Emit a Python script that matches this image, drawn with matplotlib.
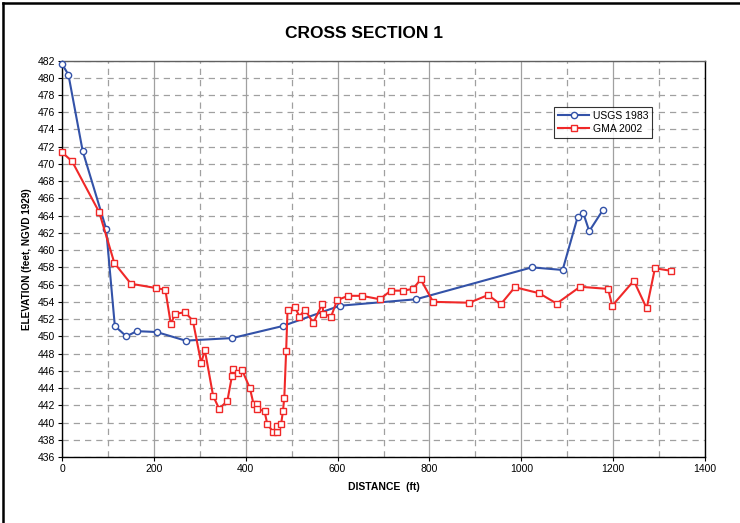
import matplotlib
matplotlib.use("Agg")
import matplotlib.pyplot as plt
from matplotlib.lines import Line2D
from matplotlib.ticker import MultipleLocator

plt.rcParams['font.family'] = ['Liberation Sans', 'DejaVu Sans']

# USGS 1983 survey
usgs_dist = [0, 14, 45, 96, 115, 140, 163, 206, 269, 371, 481, 605, 771,
             1023, 1090, 1123, 1135, 1148, 1177]
usgs_elev = [481.6, 480.35, 471.5, 462.5, 451.2, 450.0, 450.6, 450.5, 449.5,
             449.8, 451.2, 453.55, 454.3, 458.0, 457.7, 463.9, 464.3, 462.2, 464.6]

# GMA 2002 survey
gma_dist = [0, 22, 81, 114, 150, 205, 225, 237, 246, 268, 285, 303, 311,
            329, 342, 360, 370, 373, 384, 392, 409, 417, 425, 425, 441, 447,
            460, 469, 468, 477, 481, 484, 488, 491, 507, 517, 529, 547, 567,
            569, 586, 599, 623, 653, 692, 716, 743, 764, 781, 808, 887, 928,
            955, 986, 1039, 1077, 1128, 1189, 1198, 1245, 1273, 1291, 1326]
gma_elev = [471.35, 470.3, 464.4, 458.5, 456.1, 455.6, 455.4, 451.4, 452.6,
            452.8, 451.8, 446.9, 448.4, 443.1, 441.6, 442.5, 445.4, 446.2,
            445.75, 446.1, 444.0, 442.15, 442.2, 441.6, 441.3, 439.8, 438.9,
            438.9, 439.6, 439.8, 441.3, 442.9, 448.3, 453.0, 453.4, 452.3,
            453.1, 451.55, 453.8, 452.6, 452.3, 454.2, 454.7, 454.7, 454.3,
            455.3, 455.3, 455.5, 456.6, 454.0, 453.9, 454.8, 453.7, 455.7,
            455.0, 453.8, 455.75, 455.5, 453.55, 456.45, 453.25, 457.9, 457.6]


def main():
    fig = plt.figure(figsize=(7.4, 5.23), dpi=100)
    ax = fig.add_axes([0.0838, 0.1262, 0.8689, 0.7581])

    ax.plot(usgs_dist, usgs_elev, color='#3352A8', lw=1.5, marker='o', ms=4.5,
            mfc='white', mec='#3352A8', mew=1.0, label='USGS 1983', zorder=3,
            clip_on=False)
    ax.plot(gma_dist, gma_elev, color='#F02828', lw=1.5, marker='s', ms=5,
            mfc='white', mec='#F02828', mew=1.0, label='GMA 2002', zorder=4,
            clip_on=False)

    ax.set_xlim(0, 1400)
    ax.set_ylim(436, 482)
    ax.xaxis.set_major_locator(MultipleLocator(200))
    ax.xaxis.set_minor_locator(MultipleLocator(100))
    ax.yaxis.set_major_locator(MultipleLocator(2))

    # gridlines: solid at major x, dashed at minor x and every y tick
    ax.grid(True, which='major', axis='x', color='#A0A0A0', lw=0.9, ls='-')
    ax.grid(True, which='minor', axis='x', color='#A0A0A0', lw=0.9, ls=(0, (5, 4)))
    ax.grid(True, which='major', axis='y', color='#A0A0A0', lw=0.9, ls=(0, (5, 4)))
    ax.set_axisbelow(True)

    ax.tick_params(axis='both', which='major', labelsize=7.5, direction='out',
                   length=3, width=0.8, color='black', pad=2)
    ax.tick_params(axis='x', which='minor', length=0)
    for side in ['left', 'bottom', 'right']:
        ax.spines[side].set_color('black')
        ax.spines[side].set_linewidth(1.0)
    ax.spines['top'].set_color('#606060')
    ax.spines['top'].set_linewidth(1.0)

    ax.set_xlabel('DISTANCE  (ft)', fontsize=7.5, fontweight='bold', labelpad=6)
    ax.set_ylabel('ELEVATION (feet, NGVD 1929)', fontsize=7.2, fontweight='bold',
                  labelpad=4)
    fig.text(364 / 740, 1 - 34 / 523, 'CROSS SECTION 1', ha='center', va='center',
             fontsize=12.5, fontweight='bold')

    leg = ax.legend(loc='upper left', bbox_to_anchor=(0.757, 0.897), fontsize=7.5,
                    frameon=True, fancybox=False, edgecolor='black',
                    borderpad=0.4, handlelength=3, handletextpad=0.3,
                    labelspacing=0.3)
    leg.get_frame().set_linewidth(0.8)

    # outer chart border (left and top)
    fig.add_artist(Line2D([0.004, 0.004], [0, 0.994], transform=fig.transFigure,
                          color='black', lw=1.8))
    fig.add_artist(Line2D([0.004, 1], [0.994, 0.994], transform=fig.transFigure,
                          color='black', lw=1.8))

    fig.savefig('out.png', dpi=100)
    plt.close(fig)


if __name__ == '__main__':
    main()
